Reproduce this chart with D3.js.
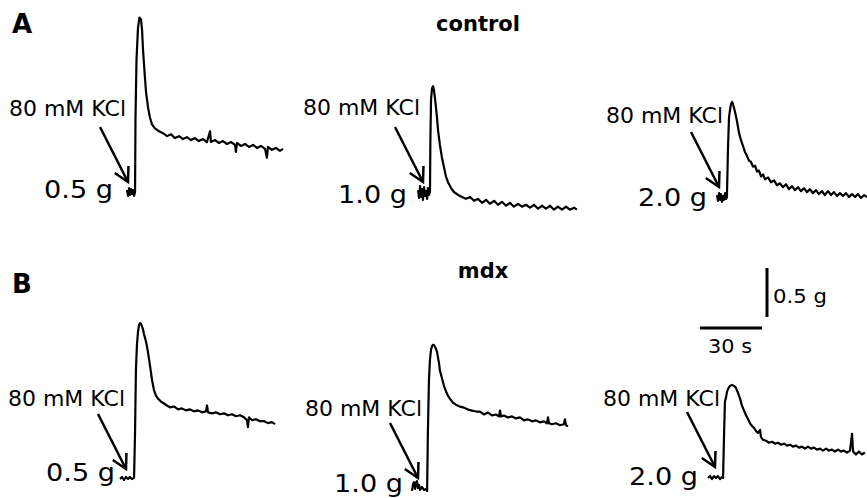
<!DOCTYPE html>
<html>
<head>
<meta charset="utf-8">
<script src="https://cdn.jsdelivr.net/npm/d3@7"></script>
<style>
  body { margin: 0; background: #fff; }
  svg { display: block; font-family: "DejaVu Sans", sans-serif; }
</style>
</head>
<body>
<svg id="chart"></svg>
<script>
// resting tensions and groups
const restLabels = ["0.5 g", "1.0 g", "2.0 g"];
const groups = ["control", "mdx"];
const panelLetters = ["A", "B"];
const stimulus = "80 mM KCl";

// scale bar values
const scaleTime = 30;   // s
const scaleForce = 0.5; // g

// force traces: [time (s), developed force (g)]
const controlRest05 = [[0,0.02],[0.5,-0.04],[1.0,0.04],[1.5,-0.03],[1.9,0.03],[2.4,-0.02],[2.9,0.02],[3.4,-0.04],[3.9,0],
  [4.1,0.73],[4.6,1.35],[5.3,1.67],[6.0,1.78],[6.8,1.76],[7.3,1.65],[7.7,1.47],[8.5,1.22],[9.2,1.02],[10.2,0.86],[11.1,0.76],
  [12.1,0.69],[13.5,0.65],[15.5,0.62],[17.4,0.60],[19.4,0.57],[21.3,0.59],[23.2,0.55],[25.2,0.57],[27.1,0.54],[29.0,0.56],
  [31.0,0.53],[32.9,0.55],[34.8,0.52],[36.8,0.54],[38.7,0.51],[40.2,0.62],[40.6,0.51],[42.6,0.53],[44.5,0.50],[46.4,0.52],
  [48.4,0.49],[50.3,0.51],[52.3,0.48],[52.7,0.41],[53.2,0.50],[55.2,0.47],[57.1,0.49],[59.0,0.46],[61.0,0.48],[62.9,0.45],
  [64.8,0.47],[66.8,0.44],[67.7,0.35],[68.2,0.46],[70.1,0.43],[72.1,0.45],[74.0,0.42],[75.5,0.44]];

const controlRest10 = [[0,0.03],[0.5,-0.05],[1.0,0.07],[1.5,-0.04],[1.9,0.04],[2.4,-0.07],[2.9,0.06],[3.4,-0.03],[3.9,0.02],
  [4.4,-0.06],[4.8,0.05],[5.3,-0.02],[5.8,0.01],[6.0,0.54],[6.3,0.95],[6.8,1.07],[7.3,1.09],[7.7,1.05],[8.2,0.97],[8.7,0.87],
  [9.2,0.77],[9.7,0.64],[10.6,0.49],[11.6,0.36],[12.6,0.26],[13.5,0.17],[14.5,0.11],[16.0,0.05],[17.4,0.01],[19.4,-0.02],
  [21.3,-0.04],[23.2,-0.06],[25.2,-0.04],[27.1,-0.08],[29.0,-0.06],[31.0,-0.10],[32.9,-0.07],[34.8,-0.11],[36.8,-0.08],
  [38.7,-0.12],[40.6,-0.09],[42.6,-0.13],[44.5,-0.10],[46.4,-0.14],[48.4,-0.11],[50.3,-0.14],[52.2,-0.12],[54.2,-0.15],
  [56.1,-0.12],[58.1,-0.16],[60.0,-0.13],[61.9,-0.16],[63.9,-0.13],[65.8,-0.17],[67.7,-0.14],[69.7,-0.17],[71.6,-0.14],
  [73.5,-0.17],[75.5,-0.15],[76.9,-0.17]];

const controlRest20 = [[0,0.02],[0.5,-0.04],[1.0,0.04],[1.5,-0.03],[1.9,0.03],[2.4,-0.05],[2.9,0.01],[3.4,-0.03],[3.9,0.04],
  [4.4,-0.02],[4.8,0],[5.3,0.48],[5.8,0.81],[6.3,0.89],[6.8,0.95],[7.3,0.97],[7.7,0.95],[8.2,0.91],[8.7,0.87],[9.2,0.82],
  [9.7,0.77],[10.6,0.66],[11.6,0.58],[12.6,0.52],[13.5,0.46],[14.5,0.42],[15.5,0.37],[16.4,0.36],[17.4,0.31],[18.4,0.32],
  [19.4,0.26],[20.3,0.27],[21.3,0.21],[22.3,0.23],[23.2,0.18],[24.7,0.20],[26.1,0.15],[27.6,0.17],[29.0,0.12],[30.5,0.14],
  [31.9,0.10],[33.4,0.13],[34.8,0.08],[36.3,0.11],[37.7,0.07],[39.2,0.10],[40.6,0.06],[42.1,0.09],[43.5,0.05],[45.0,0.08],
  [46.4,0.04],[47.9,0.07],[49.3,0.03],[50.8,0.06],[52.2,0.02],[53.7,0.06],[55.2,0.02],[56.6,0.05],[58.1,0.01],[59.5,0.04],
  [61.0,0.01],[62.4,0.04],[63.9,0.00],[65.3,0.03],[66.8,0.00],[68.2,0.03],[69.7,-0.01],[71.2,0.02],[72.6,0.00]];

const mdxRest05 = [[0,-0.01],[1.0,0.01],[1.9,-0.02],[2.9,0.01],[3.9,-0.01],[4.8,0.01],[5.8,-0.01],[6.8,0],
  [7.3,0.49],[7.7,1.10],[8.2,1.36],[8.7,1.49],[9.2,1.56],[9.7,1.58],[10.2,1.57],[10.6,1.55],[11.1,1.52],[11.6,1.47],
  [12.1,1.43],[12.6,1.39],[13.5,1.29],[14.5,1.15],[15.5,1.00],[16.4,0.90],[17.4,0.84],[18.4,0.81],[19.8,0.78],[21.3,0.76],
  [22.7,0.74],[24.2,0.72],[26.1,0.73],[28.1,0.70],[30.0,0.71],[31.9,0.69],[33.9,0.70],[35.8,0.68],[37.7,0.69],[39.7,0.67],
  [41.6,0.68],[42.1,0.74],[42.6,0.67],[44.5,0.66],[46.4,0.67],[48.4,0.65],[50.3,0.66],[52.2,0.64],[54.2,0.65],[56.1,0.63],
  [58.1,0.64],[60.0,0.62],[61.4,0.59],[61.9,0.52],[62.4,0.62],[63.9,0.59],[65.8,0.60],[67.7,0.58],[69.7,0.58],[71.6,0.56],
  [73.5,0.57],[75.0,0.55]];

const mdxRest10 = [[0,-0.04],[0.5,0.03],[1.0,0.05],[1.5,-0.02],[1.9,0.04],[2.4,0.06],[2.9,-0.01],[3.4,0.02],[3.9,-0.03],
  [4.8,0],[5.8,-0.03],[6.8,-0.02],[7.3,-0.04],[7.7,0.58],[8.2,1.09],[8.7,1.30],[9.2,1.40],[9.7,1.44],[10.2,1.45],[10.6,1.45],
  [11.1,1.43],[11.6,1.41],[12.1,1.38],[12.6,1.32],[13.1,1.26],[13.5,1.19],[14.5,1.11],[15.5,1.03],[16.4,0.98],[17.4,0.93],
  [18.4,0.90],[19.8,0.86],[21.3,0.84],[23.2,0.82],[25.2,0.81],[27.1,0.79],[29.0,0.78],[31.0,0.77],[32.9,0.77],[34.8,0.74],
  [36.8,0.76],[38.7,0.73],[40.6,0.74],[42.1,0.72],[42.6,0.78],[43.1,0.72],[44.5,0.73],[46.4,0.71],[48.4,0.72],[50.3,0.70],
  [52.2,0.71],[54.2,0.68],[56.1,0.69],[58.1,0.67],[60.0,0.68],[61.9,0.66],[63.9,0.67],[65.3,0.65],[65.8,0.71],[66.3,0.65],
  [67.7,0.64],[69.7,0.65],[71.6,0.63],[73.5,0.64],[74.0,0.69],[74.5,0.63],[75.5,0.62]];

const mdxRest20 = [[0,0],[1.0,0.02],[1.9,-0.01],[2.9,0.02],[3.9,0],[4.8,0.02],[5.8,-0.01],[6.8,0.01],[7.3,0],
  [7.7,0.39],[8.2,0.78],[8.7,0.82],[9.2,0.88],[9.7,0.91],[10.6,0.94],[11.6,0.95],[12.6,0.94],[13.5,0.92],[14.5,0.87],
  [15.5,0.81],[16.4,0.74],[17.4,0.69],[18.4,0.64],[19.4,0.60],[20.3,0.56],[21.3,0.53],[22.3,0.51],[23.2,0.48],[24.2,0.46],
  [25.2,0.49],[25.6,0.42],[26.6,0.39],[28.1,0.38],[29.5,0.36],[31.0,0.37],[32.4,0.35],[33.9,0.36],[35.3,0.34],[36.8,0.35],
  [38.2,0.33],[39.7,0.34],[41.1,0.32],[42.6,0.33],[44.0,0.31],[45.5,0.32],[46.9,0.30],[48.4,0.32],[49.8,0.30],[51.3,0.31],
  [52.7,0.29],[54.2,0.30],[55.6,0.28],[57.1,0.30],[58.5,0.28],[60.0,0.29],[61.4,0.27],[62.9,0.29],[64.4,0.27],[65.8,0.28],
  [67.2,0.26],[68.7,0.28],[69.7,0.45],[70.2,0.27],[71.6,0.24],[73.0,0.27],[74.5,0.24],[75.9,0.26]];

const traces = [
  [controlRest05, controlRest10, controlRest20],
  [mdxRest05, mdxRest10, mdxRest20]
];

// layout (pixels)
const width = 867, height = 498;
const pxPer30s = 62, pxPerHalfG = 49;
// trace origin for each panel [row][col]
const origins = [
  [[127, 192], [418, 193], [717, 197]],
  [[120, 478], [412, 487], [708, 478]]
];
// arrow tips and label anchors
const arrowTips = [
  [[128, 182], [423, 182], [719, 187]],
  [[126, 469], [418, 478], [715, 467]]
];
const stimLabelPos = [
  [[9, 116], [303, 115], [606, 123]],
  [[8, 406], [305, 416], [603, 406]]
];
const restLabelPos = [
  [[113, 198], [407, 203], [707, 206]],
  [[115, 481], [403, 492], [698, 485]]
];
const groupTitlePos = [[478, 31], [483, 278]];
const letterPos = [[12, 33], [12, 293]];

const svg = d3.select('#chart')
  .attr('width', width)
  .attr('height', height);

const xUnit = d3.scaleLinear().domain([0, scaleTime]).range([0, pxPer30s]);
const yUnit = d3.scaleLinear().domain([0, scaleForce]).range([0, pxPerHalfG]);

groups.forEach((g, r) => {
  svg.append('text')
    .attr('x', letterPos[r][0])
    .attr('y', letterPos[r][1])
    .style('font-size', '26px')
    .style('font-weight', 'bold')
    .text(panelLetters[r]);

  svg.append('text')
    .attr('x', groupTitlePos[r][0])
    .attr('y', groupTitlePos[r][1])
    .attr('text-anchor', 'middle')
    .style('font-size', '21px')
    .style('font-weight', 'bold')
    .text(g);

  restLabels.forEach((lab, c) => {
    const [ox, oy] = origins[r][c];
    const x = d3.scaleLinear().domain([0, scaleTime]).range([ox, ox + pxPer30s]);
    const y = d3.scaleLinear().domain([0, scaleForce]).range([oy, oy - pxPerHalfG]);

    const line = d3.line()
      .x(d => x(d[0]))
      .y(d => y(d[1]));

    svg.append('path')
      .datum(traces[r][c])
      .attr('d', line)
      .attr('fill', 'none')
      .attr('stroke', '#000')
      .attr('stroke-width', 2.2)
      .attr('stroke-linejoin', 'round');

    // stimulus label and arrow
    svg.append('text')
      .attr('x', stimLabelPos[r][c][0])
      .attr('y', stimLabelPos[r][c][1])
      .attr('textLength', 117)
      .attr('lengthAdjust', 'spacingAndGlyphs')
      .style('font-size', '21px')
      .text(stimulus);

    const [tx, ty] = arrowTips[r][c];
    const sx = tx - 28, sy = ty - 55;
    const ang = Math.atan2(ty - sy, tx - sx);
    const hl = 16, hw = 0.5;
    svg.append('line')
      .attr('x1', sx).attr('y1', sy)
      .attr('x2', tx).attr('y2', ty)
      .attr('stroke', '#000')
      .attr('stroke-width', 2.5);
    svg.append('path')
      .attr('d', `M${tx - hl * Math.cos(ang - hw)},${ty - hl * Math.sin(ang - hw)}L${tx},${ty}L${tx - hl * Math.cos(ang + hw)},${ty - hl * Math.sin(ang + hw)}`)
      .attr('fill', 'none')
      .attr('stroke', '#000')
      .attr('stroke-width', 2.5);

    svg.append('text')
      .attr('x', restLabelPos[r][c][0] - 69)
      .attr('y', restLabelPos[r][c][1])
      .attr('textLength', 69)
      .attr('lengthAdjust', 'spacingAndGlyphs')
      .style('font-size', '25px')
      .text(lab);
  });
});

// scale bars
const sb = svg.append('g');
sb.append('line')
  .attr('x1', 767).attr('x2', 767)
  .attr('y1', 317).attr('y2', 317 - yUnit(scaleForce))
  .attr('stroke', '#000').attr('stroke-width', 3);
sb.append('text')
  .attr('x', 773).attr('y', 303)
  .attr('textLength', 54)
  .attr('lengthAdjust', 'spacingAndGlyphs')
  .style('font-size', '20px')
  .text(`${scaleForce} g`);
sb.append('line')
  .attr('x1', 700).attr('x2', 700 + xUnit(scaleTime))
  .attr('y1', 328).attr('y2', 328)
  .attr('stroke', '#000').attr('stroke-width', 3);
sb.append('text')
  .attr('x', 708).attr('y', 353)
  .attr('textLength', 44)
  .attr('lengthAdjust', 'spacingAndGlyphs')
  .style('font-size', '20px')
  .text(`${scaleTime} s`);
</script>
</body>
</html>
